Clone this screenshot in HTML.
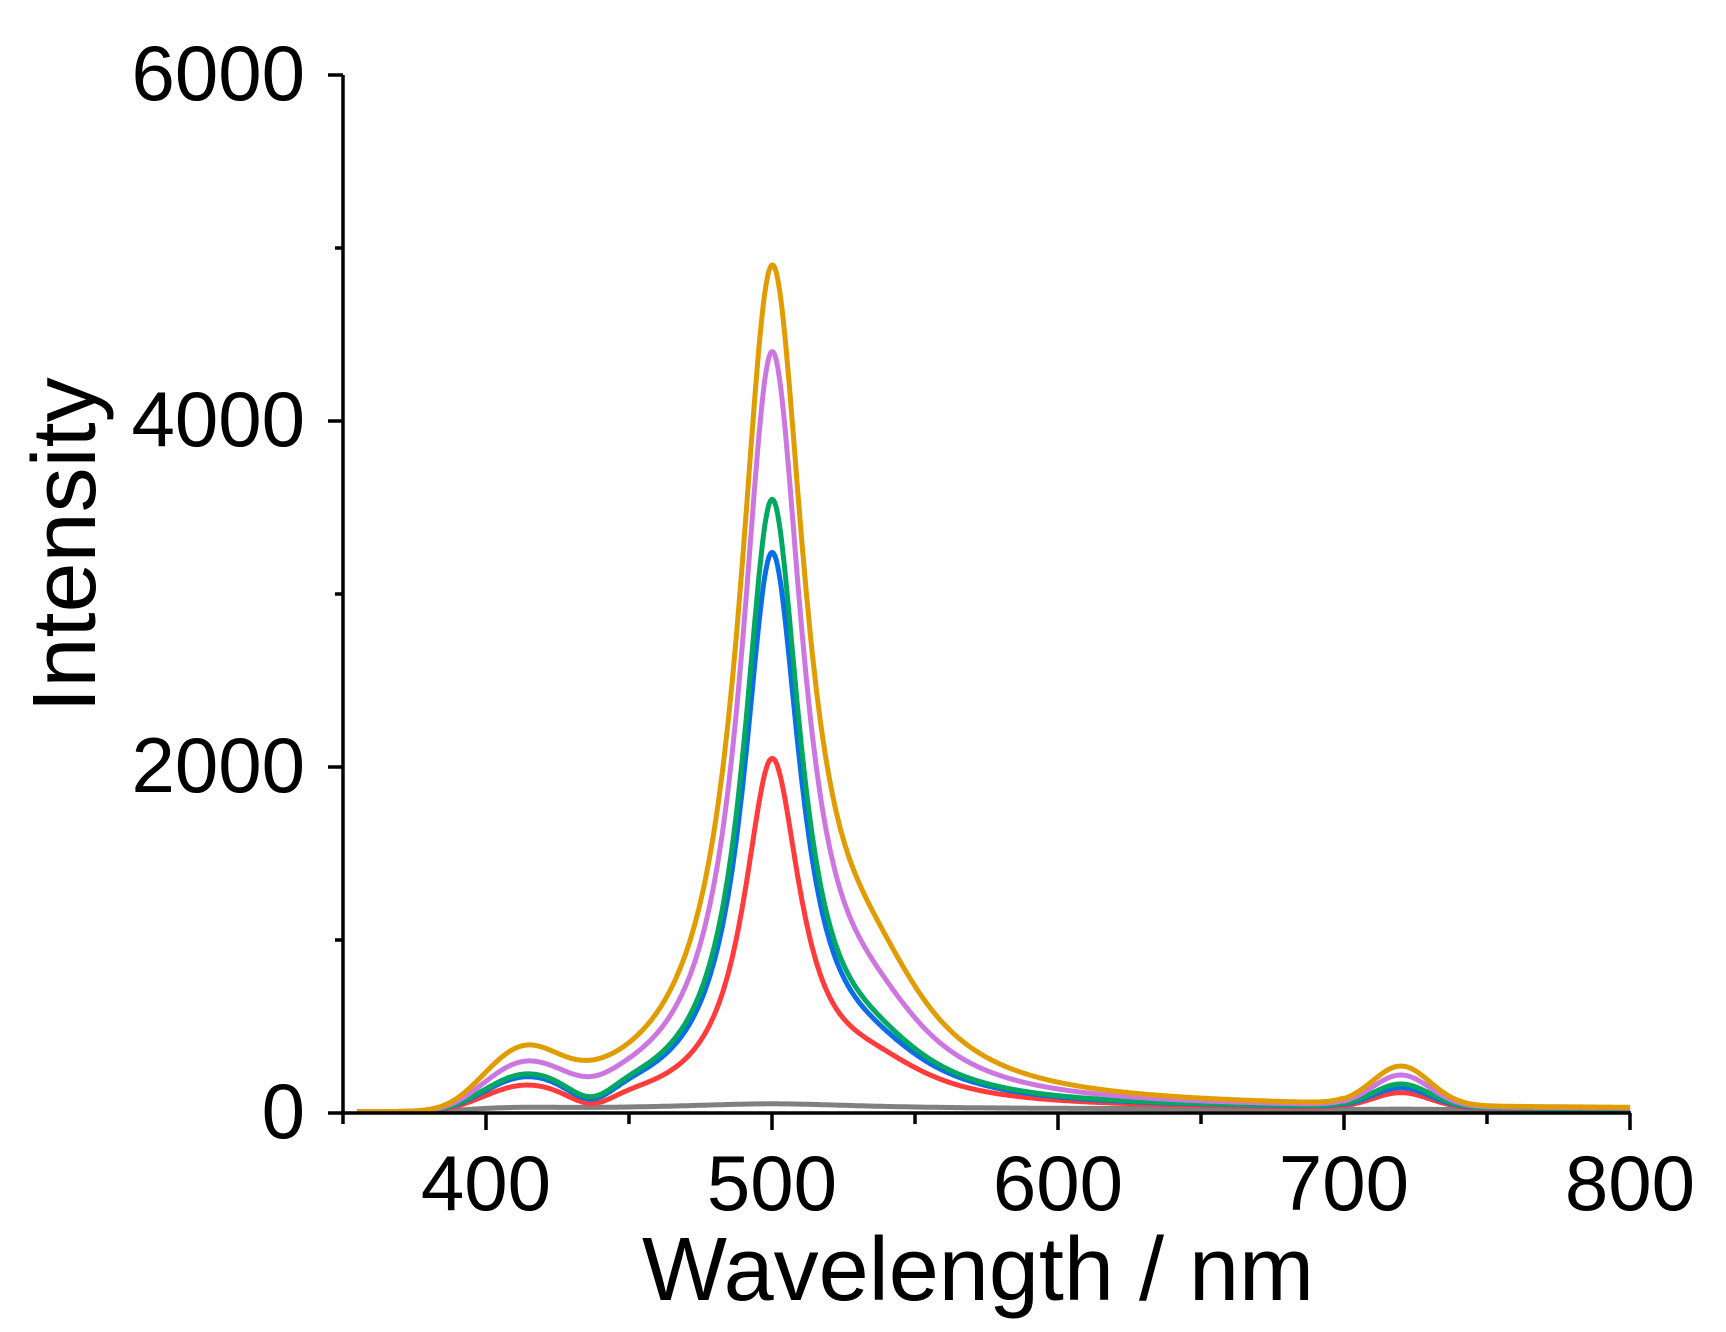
<!DOCTYPE html>
<html><head><meta charset="utf-8"><style>
html,body{margin:0;padding:0;background:#fff;}
svg{display:block;}
text{font-family:"Liberation Sans",Arial,sans-serif;fill:#000;}
</style></head><body>
<svg id="s" width="1726" height="1332" viewBox="0 0 1726 1332" xmlns="http://www.w3.org/2000/svg">
<rect width="1726" height="1332" fill="#fefefe"/>
<g id="curves" fill="none" stroke-width="5" stroke-linejoin="round"></g>
<g stroke="#000" stroke-width="3.5" fill="none">
<line x1="343" y1="75" x2="343" y2="1115"/>
<line x1="341" y1="1113" x2="1631" y2="1113"/>
<line x1="328" y1="75" x2="343" y2="75"/>
<line x1="335" y1="248" x2="343" y2="248"/>
<line x1="328" y1="421" x2="343" y2="421"/>
<line x1="335" y1="594" x2="343" y2="594"/>
<line x1="328" y1="767" x2="343" y2="767"/>
<line x1="335" y1="940" x2="343" y2="940"/>
<line x1="328" y1="1113" x2="343" y2="1113"/>
<line x1="343" y1="1113" x2="343" y2="1124"/>
<line x1="486" y1="1113" x2="486" y2="1130"/>
<line x1="629" y1="1113" x2="629" y2="1124"/>
<line x1="772" y1="1113" x2="772" y2="1130"/>
<line x1="915" y1="1113" x2="915" y2="1124"/>
<line x1="1058" y1="1113" x2="1058" y2="1130"/>
<line x1="1201" y1="1113" x2="1201" y2="1124"/>
<line x1="1344" y1="1113" x2="1344" y2="1130"/>
<line x1="1487" y1="1113" x2="1487" y2="1124"/>
<line x1="1630" y1="1113" x2="1630" y2="1130"/>
</g>
<g font-size="78" text-anchor="end">
<text x="305" y="100">6000</text>
<text x="305" y="446">4000</text>
<text x="305" y="792">2000</text>
<text x="305" y="1138">0</text>
</g>
<g font-size="78" text-anchor="middle">
<text x="486" y="1210">400</text>
<text x="772" y="1210">500</text>
<text x="1058" y="1210">600</text>
<text x="1344" y="1210">700</text>
<text x="1630" y="1210">800</text>
</g>
<text x="978" y="1300" font-size="90" text-anchor="middle">Wavelength / nm</text>
<text transform="translate(95,545) rotate(-90)" font-size="90" text-anchor="middle">Intensity</text>
</svg>
<script>
function X(w){return 343+(w-350)*2.86;}
function Y(v){return 1113-v*0.1730;}
function L(x,c,w){var d=(x-c)/w;return 1/(1+d*d);}
function G(x,c,s){var d=(x-c)/s;return Math.exp(-0.5*d*d);}
var series=[
 {c:"#808080",P:30,w:40,S:0,B:5,T:3,D:0},
 {c:"#ff3b3b",P:1966,w:12,S:180,B:95,T:90,D:60},
 {c:"#0a6ee6",P:3150,w:12,S:200,B:120,T:115,D:80},
 {c:"#00a862",P:3450,w:12,S:220,B:130,T:135,D:80},
 {c:"#cc77e0",P:4260,w:13,S:350,B:170,T:180,D:30},
 {c:"#e09c00",P:4710,w:14,S:500,B:230,T:225,D:0}
];
var g=document.getElementById("curves"),ns="http://www.w3.org/2000/svg";
series.forEach(function(s){
 var d="";
 for(var x=355;x<=800;x+=0.5){
  var cut=1/(1+Math.exp(-(x-392)/5));
  var v=(s.P*L(x,500,s.w)+s.S*L(x,535,25))*cut+s.B*G(x,413,12)+s.T*G(x,720,10)-s.D*G(x,437,7)+8+15*cut*(x<700?1:0.7);
  if(v<2)v=2;
  d+=(d?"L":"M")+X(x).toFixed(1)+","+Y(v).toFixed(1);
 }
 var p=document.createElementNS(ns,"path");
 p.setAttribute("d",d);p.setAttribute("stroke",s.c);
 g.appendChild(p);
});
</script>
</body></html>
